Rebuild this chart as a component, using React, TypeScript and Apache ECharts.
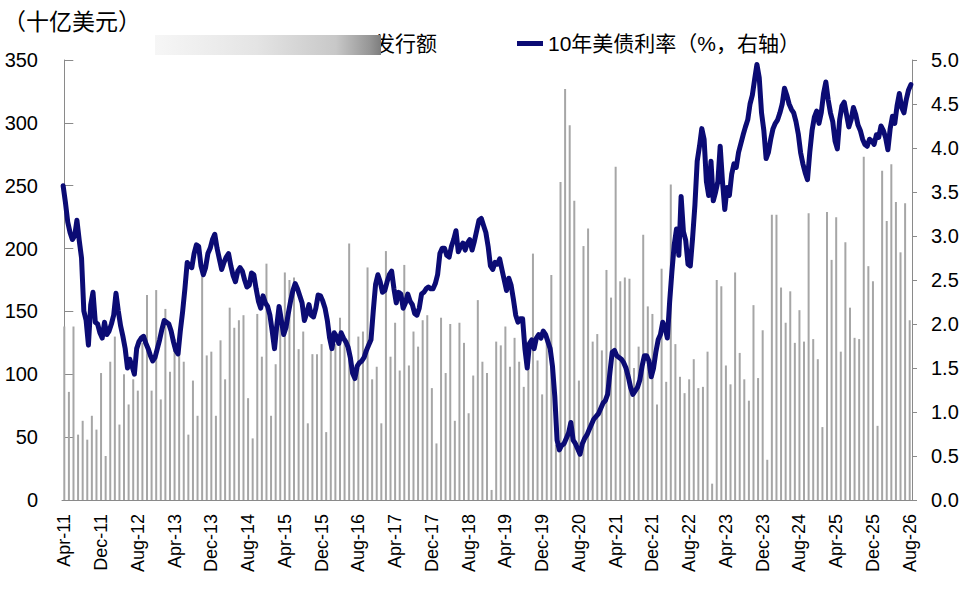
import React, { useEffect, useRef } from "react";
import * as echarts from "echarts";

// ---------- data ----------
const START_YEAR = 2011;
const START_MONTH = 3; // April (0-based)
const MONTH_ABBR = ["Jan", "Feb", "Mar", "Apr", "May", "Jun", "Jul", "Aug", "Sep", "Oct", "Nov", "Dec"];

const BAR_NAME = "发行额";
const LINE_NAME = "10年美债利率（%，右轴）";
const UNIT_LABEL = "（十亿美元）";

// monthly issuance, 十亿美元 (left axis)
const issuance2011 = [138, 86, 138, 52, 63, 48, 67, 56, 101];
const issuance2012 = [35, 110, 130, 60, 100, 76, 96, 87, 125, 163, 87, 167];
const issuance2013 = [80, 152, 102, 128, 120, 110, 52, 95, 67, 178, 115, 118];
const issuance2014 = [67, 127, 96, 153, 137, 143, 147, 81, 49, 148, 114, 188];
const issuance2015 = [67, 108, 148, 181, 175, 177, 120, 134, 61, 116, 116, 124];
const issuance2016 = [54, 127, 124, 145, 130, 204, 96, 130, 134, 185, 96, 106];
const issuance2017 = [61, 198, 114, 141, 103, 187, 107, 134, 122, 143, 147, 89];
const issuance2018 = [45, 145, 101, 140, 63, 141, 125, 69, 99, 159, 110, 101];
const issuance2019 = [8, 126, 123, 138, 106, 129, 110, 90, 106, 196, 111, 84];
const issuance2020 = [131, 179, 44, 253, 327, 298, 238, 95, 202, 216, 126, 132];
const issuance2021 = [119, 183, 161, 265, 174, 177, 176, 105, 122, 211, 154, 148];
const issuance2022 = [76, 184, 94, 251, 124, 98, 85, 96, 112, 89, 90, 118];
const issuance2023 = [13, 175, 170, 107, 92, 181, 117, 96, 79, 155, 97, 135];
const issuance2024 = [32, 227, 227, 169, 141, 166, 125, 151, 126, 228, 128, 112];
const issuance2025 = [58, 229, 191, 225, 118, 205, 153, 129, 128, 273, 186, 174];
const issuance2026 = [59, 262, 222, 267, 237, 197, 236, 143];

// 10Y treasury yield, two readings per month (%, right axis)
const yield2011 = [3.57, 3.38, 3.16, 3.04, 2.96, 3.0, 3.18, 2.95, 2.75, 2.15, 2.04, 1.76, 2.22, 2.36, 2.02, 2.0, 1.9, 1.84];
const yield2012 = [2.02, 1.88, 1.92, 2.0, 2.1, 2.35, 2.15, 1.98, 1.86, 1.72, 1.5, 1.6, 1.52, 1.43, 1.72, 1.8, 1.84, 1.86, 1.78, 1.72, 1.64, 1.58, 1.62, 1.72];
const yield2013 = [1.82, 1.94, 2.04, 2.02, 2.0, 1.92, 1.8, 1.7, 1.66, 1.92, 2.14, 2.4, 2.7, 2.66, 2.64, 2.8, 2.9, 2.88, 2.66, 2.56, 2.64, 2.8, 2.86, 2.96];
const yield2014 = [3.02, 2.86, 2.74, 2.62, 2.7, 2.76, 2.8, 2.66, 2.55, 2.48, 2.6, 2.64, 2.6, 2.5, 2.42, 2.44, 2.58, 2.56, 2.4, 2.26, 2.18, 2.32, 2.24, 2.2];
const yield2015 = [2.1, 1.92, 1.72, 1.98, 2.2, 2.04, 1.88, 1.96, 2.12, 2.26, 2.38, 2.46, 2.4, 2.32, 2.24, 2.04, 2.12, 2.22, 2.1, 2.08, 2.18, 2.33, 2.32, 2.26];
const yield2016 = [2.18, 2.04, 1.84, 1.72, 1.9, 1.86, 1.78, 1.9, 1.84, 1.8, 1.74, 1.62, 1.44, 1.38, 1.52, 1.56, 1.58, 1.62, 1.7, 1.76, 1.82, 2.15, 2.45, 2.56];
const yield2017 = [2.48, 2.36, 2.38, 2.48, 2.56, 2.6, 2.4, 2.24, 2.36, 2.34, 2.18, 2.24, 2.34, 2.26, 2.22, 2.12, 2.1, 2.18, 2.34, 2.36, 2.4, 2.42, 2.4, 2.4];
const yield2018 = [2.46, 2.56, 2.8, 2.86, 2.86, 2.78, 2.76, 2.88, 2.96, 3.06, 2.82, 2.88, 2.92, 2.84, 2.92, 2.96, 2.84, 2.94, 3.06, 3.18, 3.2, 3.12, 3.04, 2.88];
const yield2019 = [2.66, 2.62, 2.7, 2.68, 2.74, 2.62, 2.5, 2.38, 2.52, 2.44, 2.28, 2.1, 2.02, 2.06, 2.06, 1.72, 1.5, 1.78, 1.82, 1.72, 1.84, 1.88, 1.84, 1.92];
const yield2020 = [1.88, 1.8, 1.72, 1.52, 1.18, 0.68, 0.57, 0.62, 0.64, 0.7, 0.76, 0.88, 0.68, 0.64, 0.58, 0.52, 0.64, 0.7, 0.74, 0.8, 0.86, 0.92, 0.95, 0.98];
const yield2021 = [1.04, 1.1, 1.13, 1.2, 1.45, 1.68, 1.7, 1.64, 1.62, 1.6, 1.56, 1.5, 1.4, 1.28, 1.2, 1.24, 1.28, 1.36, 1.52, 1.64, 1.64, 1.58, 1.4, 1.5];
const yield2022 = [1.68, 1.82, 1.88, 2.02, 1.96, 1.84, 2.25, 2.6, 2.9, 3.08, 2.78, 3.45, 3.05, 2.95, 2.68, 2.66, 2.98, 3.35, 3.85, 4.02, 4.22, 4.1, 3.62, 3.46];
const yield2023 = [3.85, 3.4, 3.5, 3.62, 4.02, 3.62, 3.3, 3.55, 3.46, 3.7, 3.82, 3.78, 3.95, 4.05, 4.15, 4.24, 4.32, 4.5, 4.6, 4.78, 4.95, 4.8, 4.4, 4.2];
const yield2024 = [3.88, 3.95, 4.1, 4.22, 4.28, 4.32, 4.4, 4.5, 4.68, 4.6, 4.5, 4.44, 4.4, 4.3, 4.16, 3.95, 3.82, 3.72, 3.64, 3.95, 4.2, 4.35, 4.42, 4.28];
const yield2025 = [4.4, 4.62, 4.75, 4.55, 4.4, 4.3, 4.08, 3.99, 4.32, 4.48, 4.52, 4.38, 4.24, 4.32, 4.46, 4.38, 4.26, 4.2, 4.1, 4.04, 4.02, 4.1, 4.08, 4.04];
const yield2026 = [4.15, 4.12, 4.25, 4.2, 4.12, 3.98, 4.22, 4.36, 4.28, 4.48, 4.62, 4.46, 4.4, 4.55, 4.66, 4.72];

const issuanceByYear = [
  issuance2011, issuance2012, issuance2013, issuance2014, issuance2015, issuance2016,
  issuance2017, issuance2018, issuance2019, issuance2020, issuance2021, issuance2022,
  issuance2023, issuance2024, issuance2025, issuance2026,
];
const yieldByYear = [
  yield2011, yield2012, yield2013, yield2014, yield2015, yield2016, yield2017, yield2018,
  yield2019, yield2020, yield2021, yield2022, yield2023, yield2024, yield2025, yield2026,
];

const issuance: number[] = ([] as number[]).concat(...issuanceByYear);
const yields: number[] = ([] as number[]).concat(...yieldByYear);

const categories = issuance.map((_, i) => {
  const m = START_MONTH + i;
  const y = START_YEAR + Math.floor(m / 12);
  return `${MONTH_ABBR[m % 12]}-${String(y % 100).padStart(2, "0")}`;
});

// two readings per month: placed at quarter and three-quarter of each month slot
const yieldPoints = yields.map((v, k) => [Math.floor(k / 2) - 0.25 + 0.5 * (k % 2), v]);

const FONT = "'Liberation Sans', Arial, 'Noto Sans CJK SC', sans-serif";
const AXIS_GRAY = "#8a8a8a";
const BAR_GRAY = "#a6a6a6";
const NAVY = "#0b0b74";

export default function App() {
  const ref = useRef<HTMLDivElement>(null);

  useEffect(() => {
    if (!ref.current) return;
    const chart = echarts.init(ref.current, undefined, { renderer: "svg" });
    const option: any = {
      animation: false,
      textStyle: { fontFamily: FONT },
      grid: { left: 62, top: 60, right: 56, bottom: 93, containLabel: false },
      legend: {
        left: 343,
        top: 33,
        padding: 0,
        itemGap: 80,
        itemWidth: 26,
        itemHeight: 5,
        textStyle: { fontSize: 21, color: "#000", fontFamily: FONT },
        data: [
          { name: BAR_NAME, icon: "rect" },
          { name: LINE_NAME, icon: "rect" },
        ],
      },
      xAxis: [
        {
          type: "category",
          data: categories,
          boundaryGap: true,
          axisLine: { show: true, lineStyle: { color: AXIS_GRAY, width: 1 } },
          axisTick: { show: false },
          axisLabel: {
            interval: 7,
            rotate: 90,
            fontSize: 18,
            color: "#000",
            margin: 14,
            fontFamily: FONT,
          },
          splitLine: { show: false },
        },
        {
          type: "value",
          min: -0.5,
          max: 184.5,
          show: false,
          splitLine: { show: false },
        },
      ],
      yAxis: [
        {
          type: "value",
          min: 0,
          max: 350,
          interval: 50,
          position: "left",
          axisLine: { show: true, lineStyle: { color: AXIS_GRAY, width: 1 } },
          axisTick: { show: true, inside: true, length: 9, lineStyle: { color: AXIS_GRAY } },
          axisLabel: { fontSize: 20, color: "#000", margin: 24, fontFamily: FONT },
          splitLine: { show: false },
        },
        {
          type: "value",
          min: 0,
          max: 5,
          interval: 0.5,
          position: "right",
          axisLine: { show: true, lineStyle: { color: AXIS_GRAY, width: 1 } },
          axisTick: { show: true, inside: false, length: 5, lineStyle: { color: AXIS_GRAY } },
          axisLabel: {
            fontSize: 20,
            color: "#000",
            margin: 19,
            fontFamily: FONT,
            formatter: (v: number) => v.toFixed(1),
          },
          splitLine: { show: false },
        },
      ],
      series: [
        {
          name: BAR_NAME,
          type: "bar",
          xAxisIndex: 0,
          yAxisIndex: 0,
          data: issuance,
          barWidth: 2,
          itemStyle: { color: BAR_GRAY },
          z: 1,
        },
        {
          name: LINE_NAME,
          type: "line",
          xAxisIndex: 1,
          yAxisIndex: 1,
          data: yieldPoints,
          showSymbol: false,
          symbol: "none",
          lineStyle: { color: NAVY, width: 5, join: "round", cap: "round" },
          itemStyle: { color: NAVY },
          z: 3,
        },
      ],
      graphic: [
        {
          type: "text",
          left: 3,
          top: 10,
          style: { text: UNIT_LABEL, fontSize: 23, fill: "#000", fontFamily: FONT },
        },
        {
          type: "rect",
          z: 100,
          shape: { x: 155, y: 35, width: 226, height: 20 },
          style: {
            fill: new echarts.graphic.LinearGradient(0, 0, 1, 0, [
              { offset: 0, color: "rgba(245,245,245,0.9)" },
              { offset: 0.45, color: "rgba(228,228,228,1)" },
              { offset: 0.8, color: "rgba(200,200,200,1)" },
              { offset: 0.95, color: "rgba(150,150,150,1)" },
              { offset: 1, color: "rgba(125,125,125,1)" },
            ]),
          },
        },
      ],
    };
    chart.setOption(option);
    return () => chart.dispose();
  }, []);

  return (
    <div
      ref={ref}
      style={{ position: "fixed", left: 0, top: 0, width: 968, height: 593, background: "#fff" }}
    />
  );
}
